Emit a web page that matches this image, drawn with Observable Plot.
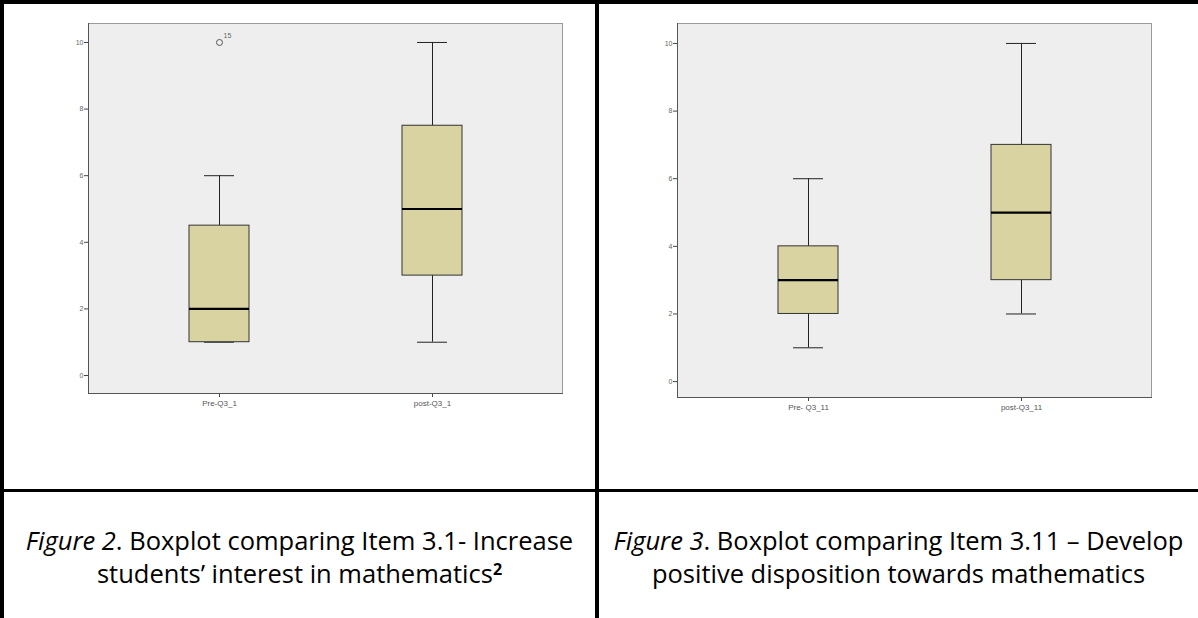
<!DOCTYPE html>
<html>
<head>
<meta charset="utf-8">
<script src="https://cdn.jsdelivr.net/npm/d3@7"></script>
<script src="https://cdn.jsdelivr.net/npm/@observablehq/plot@0.6"></script>
<style>
  html, body { margin: 0; padding: 0; background: #fff; width: 1198px; height: 618px; overflow: hidden; }
  .line { position: absolute; background: #000; }
  .chart { position: absolute; }
  .caption { position: absolute; font-family: "Open Sans", sans-serif; font-size: 25.5px; line-height: 33px; color: #000; text-align: center; }
  .caption i { font-style: italic; }
  .caption sup { font-weight: bold; font-size: 16px; line-height: 1; vertical-align: baseline; position: relative; top: -8px; }
</style>
</head>
<body>
<div class="line" style="left:0;top:0;width:1198px;height:4px"></div>
<div class="line" style="left:0;top:0;width:4px;height:618px"></div>
<div class="line" style="left:595px;top:0;width:4px;height:618px"></div>
<div class="line" style="left:0;top:489px;width:1198px;height:3px"></div>
<div id="c1" class="chart" style="left:20px;top:10px"></div>
<div id="c2" class="chart" style="left:620px;top:10px"></div>
<div class="caption" style="left:4px;top:524px;width:591px"><i>Figure 2</i>. Boxplot comparing Item 3.1- Increase<br>students’ interest in mathematics<sup>2</sup></div>
<div class="caption" style="left:599px;top:524px;width:599px"><i>Figure 3</i>. Boxplot comparing Item 3.11 – Develop<br>positive disposition towards mathematics</div>
<script>
// Figure 2 data
const cats1 = ["Pre-Q3_1", "post-Q3_1"];
const min1 = [1, 1];
const q1_1 = [1, 3];
const med1 = [2, 5];
const q3_1 = [4.5, 7.5];
const max1 = [6, 10];
const outlierCat1 = ["Pre-Q3_1"];
const outlierVal1 = [10];
const outlierLabel1 = ["15"];

// Figure 3 data
const cats2 = ["Pre- Q3_11", "post-Q3_11"];
const min2 = [1, 2];
const q1_2 = [2, 3];
const med2 = [3, 5];
const q3_2 = [4, 7];
const max2 = [6, 10];

const yTicks = [0, 2, 4, 6, 8, 10];

function build(cats, mn, q1, md, q3, mx, outliers, opts) {
  const rows = cats.map((c, i) => ({cat: c, min: mn[i], q1: q1[i], med: md[i], q3: q3[i], max: mx[i]}));
  const marks = [
    Plot.frame({fill: "#eeeeee", stroke: "#9a9a9a"}),
    Plot.ruleX(rows, {x: "cat", y1: "min", y2: "q1", stroke: "#222", strokeWidth: 1}),
    Plot.ruleX(rows, {x: "cat", y1: "q3", y2: "max", stroke: "#222", strokeWidth: 1}),
    Plot.tickY(rows, {x: "cat", y: "max", stroke: "#222", insetLeft: 15, insetRight: 15}),
    Plot.tickY(rows, {x: "cat", y: "min", stroke: "#222", insetLeft: 15, insetRight: 15}),
    Plot.barY(rows, {x: "cat", y1: "q1", y2: "q3", fill: "#d8d3a0", stroke: "#333", strokeWidth: 1}),
    Plot.tickY(rows, {x: "cat", y: "med", stroke: "#000", strokeWidth: 2.2}),
    Plot.axisY({ticks: yTicks, tickSize: 4, fontSize: 7, fill: "#666", stroke: "#444", tickPadding: 1, label: null}),
    Plot.axisX({tickSize: 4, fontSize: 8, fill: "#555", stroke: "#444", tickPadding: 3, label: null}),
    Plot.frame({anchor: "left", stroke: "#555"}),
    Plot.frame({anchor: "bottom", stroke: "#555"})
  ];
  if (outliers) {
    marks.push(Plot.dot(outliers, {x: "cat", y: "v", r: 3, stroke: "#555", strokeWidth: 1}));
    marks.push(Plot.text(outliers, {x: "cat", y: "v", text: "label", dx: 8, dy: -7, fontSize: 7, fill: "#666"}));
  }
  return Plot.plot({
    width: 560, height: 410,
    marginLeft: opts.ml, marginRight: opts.mr, marginTop: opts.mt, marginBottom: opts.mb,
    style: {fontFamily: "Liberation Sans, Arial, sans-serif", background: "transparent"},
    x: {type: "band", domain: cats, paddingInner: 0.72, paddingOuter: 0.4675, axis: null, label: null},
    y: {domain: opts.yd, axis: null, label: null},
    marks
  });
}

const out1 = outlierCat1.map((c, i) => ({cat: c, v: outlierVal1[i], label: outlierLabel1[i]}));
document.getElementById("c1").appendChild(
  build(cats1, min1, q1_1, med1, q3_1, max1, out1, {ml: 68, mr: 18, mt: 13, mb: 27, yd: [-0.54, 10.57]})
);
document.getElementById("c2").appendChild(
  build(cats2, min2, q1_2, med2, q3_2, max2, null, {ml: 57, mr: 29, mt: 13, mb: 23, yd: [-0.47, 10.59]})
);
</script>
</body>
</html>
